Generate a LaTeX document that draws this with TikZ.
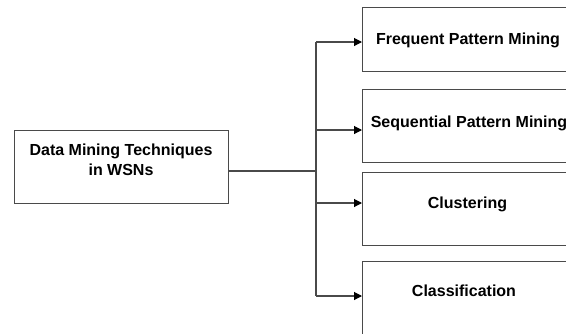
\documentclass[tikz,border=0pt]{standalone}
\usepackage{fontspec}
\setmainfont{Liberation Sans}
\usetikzlibrary{arrows.meta}
\definecolor{linegray}{HTML}{4A4A4A}
\tikzset{
  box/.style={draw=linegray, line width=1.1pt, rectangle, inner sep=0pt, minimum width=214pt},
  txt/.style={font=\fontsize{16}{20}\selectfont\bfseries, text=black, inner sep=0pt, anchor=base},
  conn/.style={draw=linegray, line width=1.1pt},
  arr/.style={conn, -{Triangle[length=8pt,width=8pt,color=black]}}
}
\begin{document}
\begin{tikzpicture}[x=1pt,y=-1pt]
\useasboundingbox (0,0) rectangle (566,333);
\clip (0,0) rectangle (566,333);
% left box
\node[box, minimum height=73pt, anchor=north west] (l) at (14,130) {};
\node[txt] (lt1) at (121,155) {Data Mining Techniques};
\node[txt] (lt2) at (121,175) {in WSNs};
% right boxes
\node[box, minimum height=64pt, anchor=north west] (b1) at (362,7) {};
\node[txt] (t1) at (468,44.5) {Frequent Pattern Mining};
\node[box, minimum height=73pt, anchor=north west] (b2) at (362,89) {};
\node[txt] (t2) at (469,127.7) {Sequential Pattern Mining};
\node[box, minimum height=73pt, anchor=north west] (b3) at (362,172) {};
\node[txt] (t3) at (467.5,208.3) {Clustering};
\node[box, minimum height=90pt, anchor=north west] (b4) at (362,261) {};
\node[txt] (t4) at (464,296.7) {Classification};
% junction coordinates
\coordinate (jm) at (316,171);
\coordinate (j1) at (316,42);
\coordinate (j2) at (316,130);
\coordinate (j3) at (316,203);
\coordinate (j4) at (316,296);
\draw[conn] (jm -| l.east) -- (jm);
\draw[conn] (j1) -- (j4);
\draw[arr] (j1) -- (j1 -| b1.west);
\draw[arr] (j2) -- (j2 -| b2.west);
\draw[arr] (j3) -- (j3 -| b3.west);
\draw[arr] (j4) -- (j4 -| b4.west);
\end{tikzpicture}
\end{document}
